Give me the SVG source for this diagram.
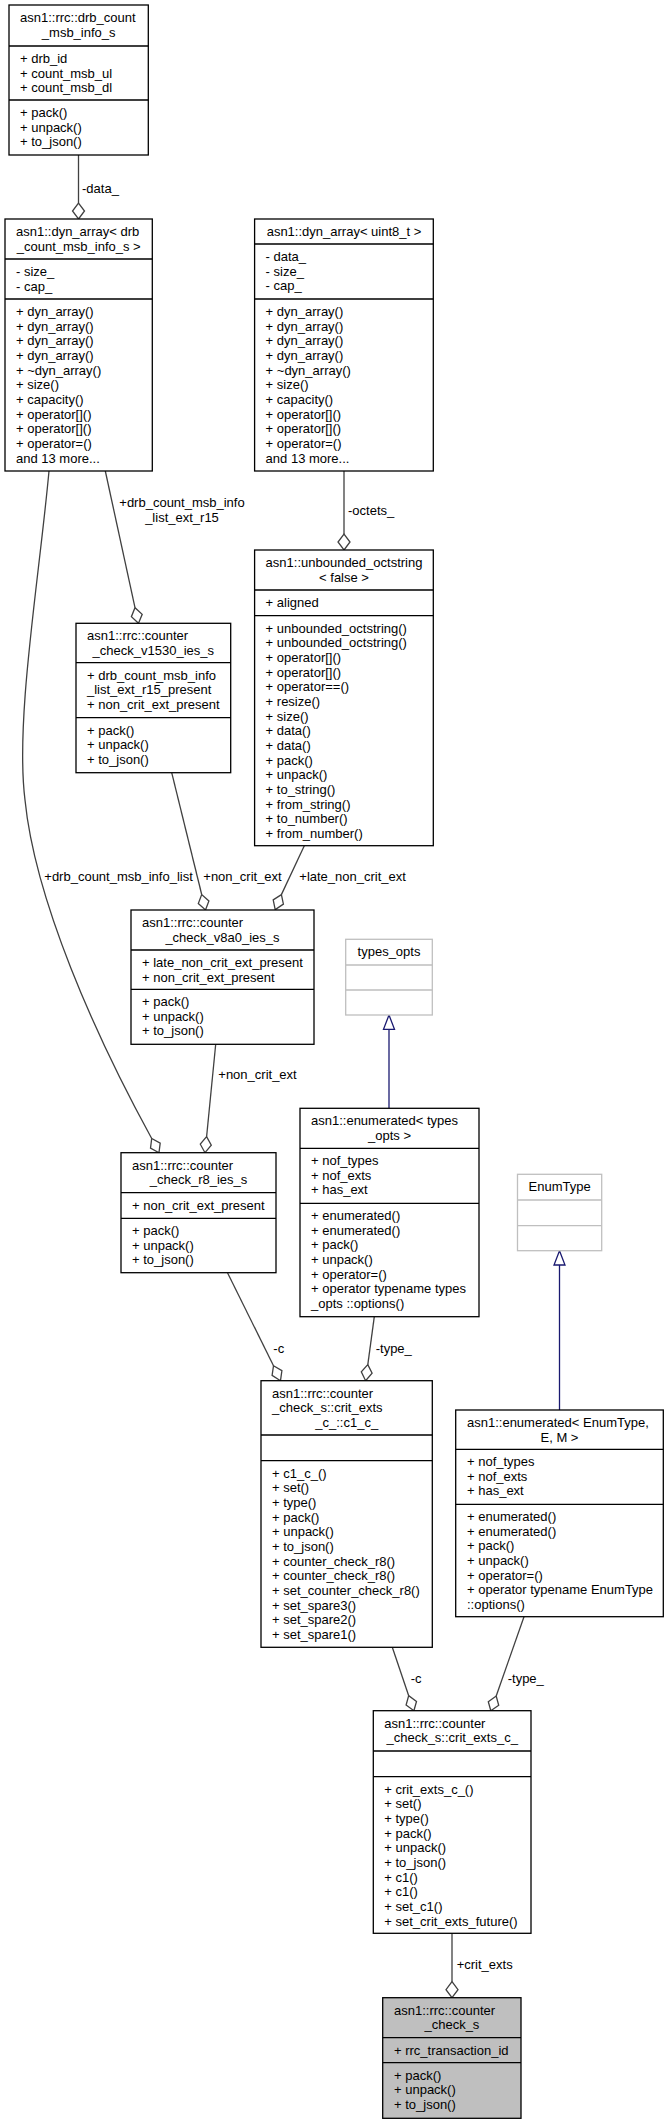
<svg xmlns="http://www.w3.org/2000/svg" width="669" height="2124" viewBox="0 0 669 2124">
<style>
text{font-family:"Liberation Sans",Arial,Helvetica,sans-serif;font-size:13px;fill:#000}
.m{text-anchor:middle}
.box{fill:#fff;stroke:#000;stroke-width:1.3}
.sel{fill:#bfbfbf;stroke:#000;stroke-width:1.3}
.gb{fill:#fff;stroke:#bfbfbf;stroke-width:1.3}
.sep{stroke:#000;stroke-width:1.3}
.gsep{stroke:#bfbfbf;stroke-width:1.3}
.e{fill:none;stroke:#404040;stroke-width:1.3}
.d{fill:#fff;stroke:#404040;stroke-width:1.3}
.i{fill:none;stroke:#191970;stroke-width:1.3}
.tri{fill:#fff;stroke:#191970;stroke-width:1.3}
</style>
<rect width="669" height="2124" fill="#fff"/>

<g id="edges">
<path class="e" d="M78.5,155V203"/>
<polygon class="d" points="78.5,219 84.5,211 78.5,203 72.5,211"/>
<text x="82" y="193">-data_</text>

<path class="e" d="M344,471V534"/>
<polygon class="d" points="344,550 350,542 344,534 338,542"/>
<text x="348" y="515">-octets_</text>

<path class="e" d="M105.3,471L135,607.7"/>
<polygon class="d" points="138.5,623.3 142.2,614.3 135,607.7 131.4,616.7"/>
<text x="182" y="507" class="m">+drb_count_msb_info</text>
<text x="182" y="521.5" class="m">_list_ext_r15</text>

<path class="e" d="M49,471C39,580 15,720 25,800C35,900 95,1035 151.7,1138.5"/>
<polygon class="d" points="159,1152.7 160.2,1143.1 151.7,1138.5 150.5,1148.1"/>
<text x="44.3" y="881">+drb_count_msb_info_list</text>

<path class="e" d="M171.7,772.7L201.7,894.5"/>
<polygon class="d" points="205.5,910 208.9,900.9 201.7,894.5 198.3,903.5"/>
<text x="203.3" y="881">+non_crit_ext</text>

<path class="e" d="M304.3,845.7Q292,872 281.4,894.6"/>
<polygon class="d" points="275.2,909.6 283.4,904.1 281.4,894.6 273.2,899.9"/>
<text x="299.3" y="881">+late_non_crit_ext</text>

<path class="e" d="M215.7,1044.3L206.6,1136.7"/>
<polygon class="d" points="205,1152.7 211.3,1145.2 206.6,1136.7 200.3,1144.2"/>
<text x="218.3" y="1079.3">+non_crit_ext</text>

<path class="i" d="M389,1108.3V1029.3"/>
<polygon class="tri" points="389,1015 394.5,1029.3 383.5,1029.3"/>

<path class="i" d="M559.5,1410V1265"/>
<polygon class="tri" points="559.5,1250.7 565,1265 554,1265"/>

<path class="e" d="M227.5,1272.7L273.5,1365.8"/>
<polygon class="d" points="280.5,1380.7 281.9,1370.6 273.5,1365.8 272.1,1375.4"/>
<text x="273.3" y="1353">-c</text>

<path class="e" d="M374.3,1316.7L367.8,1364.6"/>
<polygon class="d" points="365.6,1380.7 372.1,1373.2 367.8,1364.6 361.3,1371.8"/>
<text x="375.7" y="1352.5">-type_</text>

<path class="e" d="M392.3,1647.3L408.7,1695.7"/>
<polygon class="d" points="413.9,1710.7 416.5,1701.5 408.7,1695.7 406.1,1705.1"/>
<text x="410.7" y="1683">-c</text>

<path class="e" d="M524,1616.7L496.2,1696"/>
<polygon class="d" points="490.8,1710.7 498.7,1705.3 496.2,1696 488.3,1701.7"/>
<text x="507.7" y="1683">-type_</text>

<path class="e" d="M452,1933.3V1981.7"/>
<polygon class="d" points="452,1997.7 458,1989.7 452,1981.7 446,1989.7"/>
<text x="456.7" y="1968.5">+crit_exts</text>
</g>

<g id="drb_count_msb_info_s">
<rect class="box" x="9" y="5" width="139.3" height="150"/>
<path class="sep" d="M9,46H148.3M9,100H148.3"/>
<text x="20" y="21.8">asn1::rrc::drb_count</text>
<text x="78.7" y="36.5" class="m">_msb_info_s</text>
<text x="20" y="62.8">+ drb_id</text>
<text x="20" y="77.5">+ count_msb_ul</text>
<text x="20" y="92.1">+ count_msb_dl</text>
<text x="20" y="116.8">+ pack()</text>
<text x="20" y="131.5">+ unpack()</text>
<text x="20" y="146.1">+ to_json()</text>
</g>

<g id="dyn_array_drb">
<rect class="box" x="5" y="219" width="147.3" height="252"/>
<path class="sep" d="M5,259H152.3M5,299H152.3"/>
<text x="16" y="235.8">asn1::dyn_array&lt; drb</text>
<text x="78.7" y="250.5" class="m">_count_msb_info_s &gt;</text>
<text x="16" y="275.8">- size_</text>
<text x="16" y="290.5">- cap_</text>
<text x="16" y="315.8">+ dyn_array()</text>
<text x="16" y="330.5">+ dyn_array()</text>
<text x="16" y="345.1">+ dyn_array()</text>
<text x="16" y="359.8">+ dyn_array()</text>
<text x="16" y="374.5">+ ~dyn_array()</text>
<text x="16" y="389.2">+ size()</text>
<text x="16" y="403.8">+ capacity()</text>
<text x="16" y="418.5">+ operator[]()</text>
<text x="16" y="433.2">+ operator[]()</text>
<text x="16" y="447.8">+ operator=()</text>
<text x="16" y="462.5">and 13 more...</text>
</g>

<g id="dyn_array_uint8">
<rect class="box" x="254.6" y="219" width="178.7" height="252"/>
<path class="sep" d="M254.6,244H433.3M254.6,299H433.3"/>
<text x="344" y="235.8" class="m">asn1::dyn_array&lt; uint8_t &gt;</text>
<text x="265.6" y="260.8">- data_</text>
<text x="265.6" y="275.5">- size_</text>
<text x="265.6" y="290.1">- cap_</text>
<text x="265.6" y="315.8">+ dyn_array()</text>
<text x="265.6" y="330.5">+ dyn_array()</text>
<text x="265.6" y="345.1">+ dyn_array()</text>
<text x="265.6" y="359.8">+ dyn_array()</text>
<text x="265.6" y="374.5">+ ~dyn_array()</text>
<text x="265.6" y="389.2">+ size()</text>
<text x="265.6" y="403.8">+ capacity()</text>
<text x="265.6" y="418.5">+ operator[]()</text>
<text x="265.6" y="433.2">+ operator[]()</text>
<text x="265.6" y="447.8">+ operator=()</text>
<text x="265.6" y="462.5">and 13 more...</text>
</g>

<g id="unbounded_octstring">
<rect class="box" x="254.6" y="550" width="178.7" height="295.7"/>
<path class="sep" d="M254.6,590H433.3M254.6,615.7H433.3"/>
<text x="265.6" y="566.8">asn1::unbounded_octstring</text>
<text x="344" y="581.5" class="m">&lt; false &gt;</text>
<text x="265.6" y="606.8">+ aligned</text>
<text x="265.6" y="632.5">+ unbounded_octstring()</text>
<text x="265.6" y="647.2">+ unbounded_octstring()</text>
<text x="265.6" y="661.8">+ operator[]()</text>
<text x="265.6" y="676.5">+ operator[]()</text>
<text x="265.6" y="691.2">+ operator==()</text>
<text x="265.6" y="705.8">+ resize()</text>
<text x="265.6" y="720.5">+ size()</text>
<text x="265.6" y="735.2">+ data()</text>
<text x="265.6" y="749.9">+ data()</text>
<text x="265.6" y="764.5">+ pack()</text>
<text x="265.6" y="779.2">+ unpack()</text>
<text x="265.6" y="793.9">+ to_string()</text>
<text x="265.6" y="808.5">+ from_string()</text>
<text x="265.6" y="823.2">+ to_number()</text>
<text x="265.6" y="837.9">+ from_number()</text>
</g>

<g id="counter_check_v1530_ies_s">
<rect class="box" x="76" y="623.3" width="154.7" height="149.4"/>
<path class="sep" d="M76,662.7H230.7M76,717.7H230.7"/>
<text x="87" y="640.1">asn1::rrc::counter</text>
<text x="153.3" y="654.8" class="m">_check_v1530_ies_s</text>
<text x="87" y="679.5">+ drb_count_msb_info</text>
<text x="87" y="694.2">_list_ext_r15_present</text>
<text x="87" y="708.8">+ non_crit_ext_present</text>
<text x="87" y="734.5">+ pack()</text>
<text x="87" y="749.2">+ unpack()</text>
<text x="87" y="763.8">+ to_json()</text>
</g>

<g id="counter_check_v8a0_ies_s">
<rect class="box" x="131" y="910" width="183" height="134.3"/>
<path class="sep" d="M131,950H314M131,989.3H314"/>
<text x="142" y="926.8">asn1::rrc::counter</text>
<text x="222.5" y="941.5" class="m">_check_v8a0_ies_s</text>
<text x="142" y="966.8">+ late_non_crit_ext_present</text>
<text x="142" y="981.5">+ non_crit_ext_present</text>
<text x="142" y="1006.1">+ pack()</text>
<text x="142" y="1020.8">+ unpack()</text>
<text x="142" y="1035.4">+ to_json()</text>
</g>

<g id="counter_check_r8_ies_s">
<rect class="box" x="121" y="1152.7" width="155" height="120"/>
<path class="sep" d="M121,1192.7H276M121,1218.3H276"/>
<text x="132" y="1169.5">asn1::rrc::counter</text>
<text x="198.5" y="1184.2" class="m">_check_r8_ies_s</text>
<text x="132" y="1209.5">+ non_crit_ext_present</text>
<text x="132" y="1235.1">+ pack()</text>
<text x="132" y="1249.8">+ unpack()</text>
<text x="132" y="1264.4">+ to_json()</text>
</g>

<g id="types_opts">
<rect class="gb" x="345.7" y="939.3" width="86.6" height="75.7"/>
<path class="gsep" d="M345.7,965H432.3M345.7,990H432.3"/>
<text x="389" y="956.1" class="m">types_opts</text>
</g>

<g id="enumerated_types_opts">
<rect class="box" x="300" y="1108.3" width="179" height="208.4"/>
<path class="sep" d="M300,1148.3H479M300,1203.3H479"/>
<text x="311" y="1125.1">asn1::enumerated&lt; types</text>
<text x="389.5" y="1139.8" class="m">_opts &gt;</text>
<text x="311" y="1165.1">+ nof_types</text>
<text x="311" y="1179.8">+ nof_exts</text>
<text x="311" y="1194.4">+ has_ext</text>
<text x="311" y="1220.1">+ enumerated()</text>
<text x="311" y="1234.8">+ enumerated()</text>
<text x="311" y="1249.4">+ pack()</text>
<text x="311" y="1264.1">+ unpack()</text>
<text x="311" y="1278.8">+ operator=()</text>
<text x="311" y="1293.4">+ operator typename types</text>
<text x="311" y="1308.1">_opts ::options()</text>
</g>

<g id="EnumType">
<rect class="gb" x="517.5" y="1174.3" width="84.2" height="76.4"/>
<path class="gsep" d="M517.5,1200H601.7M517.5,1225.7H601.7"/>
<text x="559.6" y="1191.1" class="m">EnumType</text>
</g>

<g id="enumerated_EnumType">
<rect class="box" x="455.7" y="1410" width="207.6" height="206.7"/>
<path class="sep" d="M455.7,1449.3H663.3M455.7,1504.3H663.3"/>
<text x="467" y="1426.8">asn1::enumerated&lt; EnumType,</text>
<text x="559.5" y="1441.5" class="m">E, M &gt;</text>
<text x="467" y="1466.1">+ nof_types</text>
<text x="467" y="1480.8">+ nof_exts</text>
<text x="467" y="1495.4">+ has_ext</text>
<text x="467" y="1521.1">+ enumerated()</text>
<text x="467" y="1535.8">+ enumerated()</text>
<text x="467" y="1550.4">+ pack()</text>
<text x="467" y="1565.1">+ unpack()</text>
<text x="467" y="1579.8">+ operator=()</text>
<text x="467" y="1594.4">+ operator typename EnumType</text>
<text x="467" y="1609.1">::options()</text>
</g>

<g id="c1_c_">
<rect class="box" x="261" y="1380.7" width="171.3" height="266.6"/>
<path class="sep" d="M261,1435H432.3M261,1460.7H432.3"/>
<text x="272" y="1397.5">asn1::rrc::counter</text>
<text x="272" y="1412.2">_check_s::crit_exts</text>
<text x="346.7" y="1426.8" class="m">_c_::c1_c_</text>
<text x="272" y="1477.5">+ c1_c_()</text>
<text x="272" y="1492.2">+ set()</text>
<text x="272" y="1506.8">+ type()</text>
<text x="272" y="1521.5">+ pack()</text>
<text x="272" y="1536.2">+ unpack()</text>
<text x="272" y="1550.8">+ to_json()</text>
<text x="272" y="1565.5">+ counter_check_r8()</text>
<text x="272" y="1580.2">+ counter_check_r8()</text>
<text x="272" y="1594.9">+ set_counter_check_r8()</text>
<text x="272" y="1609.5">+ set_spare3()</text>
<text x="272" y="1624.2">+ set_spare2()</text>
<text x="272" y="1638.9">+ set_spare1()</text>
</g>

<g id="crit_exts_c_">
<rect class="box" x="373.3" y="1710.7" width="157.7" height="222.6"/>
<path class="sep" d="M373.3,1751H531M373.3,1776.7H531"/>
<text x="384.3" y="1727.5">asn1::rrc::counter</text>
<text x="452.2" y="1742.2" class="m">_check_s::crit_exts_c_</text>
<text x="384.3" y="1793.5">+ crit_exts_c_()</text>
<text x="384.3" y="1808.2">+ set()</text>
<text x="384.3" y="1822.8">+ type()</text>
<text x="384.3" y="1837.5">+ pack()</text>
<text x="384.3" y="1852.2">+ unpack()</text>
<text x="384.3" y="1866.8">+ to_json()</text>
<text x="384.3" y="1881.5">+ c1()</text>
<text x="384.3" y="1896.2">+ c1()</text>
<text x="384.3" y="1910.9">+ set_c1()</text>
<text x="384.3" y="1925.5">+ set_crit_exts_future()</text>
</g>

<g id="counter_check_s">
<rect class="sel" x="382.7" y="1997.7" width="138.3" height="120.6"/>
<path class="sep" d="M382.7,2037.7H521M382.7,2062.7H521"/>
<text x="394" y="2014.5">asn1::rrc::counter</text>
<text x="451.9" y="2029.2" class="m">_check_s</text>
<text x="394" y="2054.5">+ rrc_transaction_id</text>
<text x="394" y="2079.5">+ pack()</text>
<text x="394" y="2094.2">+ unpack()</text>
<text x="394" y="2108.8">+ to_json()</text>
</g>
</svg>
